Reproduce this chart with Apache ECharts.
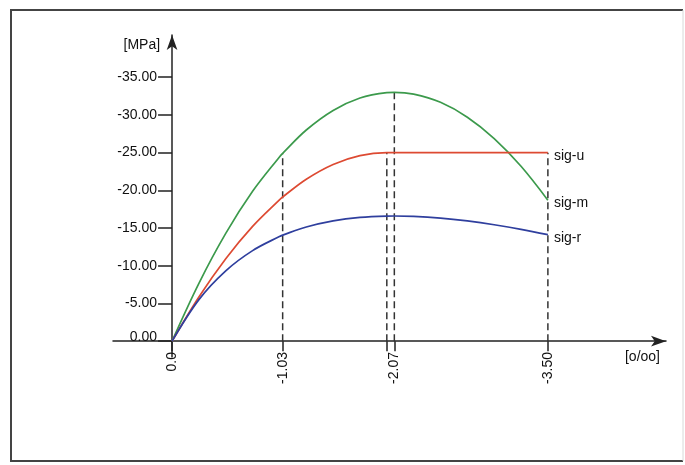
<!DOCTYPE html>
<html>
<head>
<meta charset="utf-8">
<script src="https://cdn.jsdelivr.net/npm/echarts@6/dist/echarts.min.js"></script>
<style>
  html, body { margin: 0; padding: 0; background: #fff; }
  #chart { width: 685px; height: 465px; }
</style>
</head>
<body>
<div id="chart"></div>
<script>
// Concrete stress-strain relations: strain [‰] vs. stress [MPa] (compression negative)
const strain = [0, -0.25, -0.5, -0.75, -1.0, -1.03, -1.25, -1.5, -1.75, -2.0, -2.07, -2.25, -2.5, -2.75, -3.0, -3.25, -3.5];
const sigM = [0, -7.67, -14.29, -19.87, -24.43, -24.91, -28.00, -30.60, -32.25, -32.96, -33.00, -32.76, -31.67, -29.70, -26.87, -23.20, -18.70];
const sigU = [0, -5.86, -10.94, -15.23, -18.75, -19.12, -21.48, -23.44, -24.61, -25.00, -25.00, -25.00, -25.00, -25.00, -25.00, -25.00, -25.00];
const sigR = [0, -5.51, -9.33, -12.01, -13.88, -14.06, -15.14, -15.95, -16.41, -16.59, -16.60, -16.55, -16.32, -15.94, -15.44, -14.83, -14.12];

// Characteristic strains marked with dashed drop lines
const dropX = [-1.03, -2.0, -2.07, -3.5];
const dropTop = [-24.91, -25.0, -33.0, -25.0];

// Axis ticks and labels
const xTickValues = [0, -1.03, -2.0, -2.07, -3.5];
const xLabelValues = [0, -1.03, -2.07, -3.5];
const xLabelTexts = ['0.0', '-1.03', '-2.07', '-3.50'];
const yTickValues = [0, -5, -10, -15, -20, -25, -30, -35];
const yLabelTexts = ['0.00', '-5.00', '-10.00', '-15.00', '-20.00', '-25.00', '-30.00', '-35.00'];

const seriesNames = ['sig-m', 'sig-u', 'sig-r'];
const seriesColors = ['#3c9a4c', '#dd4a32', '#2f3f9e'];
const seriesValues = [sigM, sigU, sigR];
const endOffsets = [[12, 3], [12, 4], [12, 3]];

const FONT = '"Liberation Sans", Arial, sans-serif';
const AXIS_COLOR = '#222';

const chart = echarts.init(document.getElementById('chart'), null, { renderer: 'canvas' });

const curveSeries = seriesNames.map((name, i) => ({
  name: name,
  type: 'line',
  data: strain.map((x, j) => [x, seriesValues[i][j]]),
  smooth: 0.35,
  showSymbol: false,
  lineStyle: { color: seriesColors[i], width: 1.7 },
  z: 5,
  endLabel: {
    show: true,
    formatter: '{a}',
    color: '#111',
    fontFamily: FONT,
    fontSize: 14,
    align: 'left',
    distance: 6,
    offset: endOffsets[i]
  }
}));

const dropSeries = dropX.map((x, i) => ({
  type: 'line',
  data: [[x, 0], [x, dropTop[i]]],
  showSymbol: false,
  silent: true,
  lineStyle: { color: '#333', width: 1.5, type: [7, 4] },
  z: 3
}));

const option = {
  backgroundColor: '#fff',
  animation: false,
  grid: { left: 113, top: 35, width: 553, height: 322, containLabel: false },
  xAxis: {
    type: 'value',
    min: -4.6,
    max: 0.55,
    inverse: true,
    name: '[o/oo]',
    nameLocation: 'start',
    nameGap: -6,
    nameTextStyle: {
      color: '#111', fontFamily: FONT, fontSize: 14,
      align: 'right', verticalAlign: 'top', padding: [9, 0, 0, 0]
    },
    splitLine: { show: false },
    axisLine: {
      onZero: true,
      symbol: ['none', 'arrow'],
      symbolSize: [8, 15],
      lineStyle: { color: AXIS_COLOR, width: 1.5 }
    },
    axisTick: {
      show: true, customValues: xTickValues, length: 10,
      lineStyle: { color: AXIS_COLOR, width: 1.5 }
    },
    axisLabel: {
      show: true,
      customValues: xLabelValues,
      rotate: 90,
      margin: -5,
      color: '#111',
      fontFamily: FONT,
      fontSize: 14,
      formatter: v => {
        const k = xLabelValues.findIndex(t => Math.abs(t - v) < 1e-6);
        return k >= 0 ? xLabelTexts[k] : '';
      }
    }
  },
  yAxis: {
    type: 'value',
    min: -40.6,
    max: 2.1,
    inverse: true,
    name: '[MPa]',
    nameLocation: 'start',
    nameGap: 0,
    nameTextStyle: {
      color: '#111', fontFamily: FONT, fontSize: 14,
      align: 'right', verticalAlign: 'top', padding: [3, 12, 0, 0]
    },
    splitLine: { show: false },
    axisLine: {
      onZero: true,
      symbol: ['none', 'arrow'],
      symbolSize: [8, 15],
      lineStyle: { color: AXIS_COLOR, width: 1.5 }
    },
    axisTick: {
      show: true, customValues: yTickValues, length: 14,
      lineStyle: { color: AXIS_COLOR, width: 1.5 }
    },
    axisLabel: {
      show: true,
      customValues: yTickValues,
      margin: -44,
      color: '#111',
      fontFamily: FONT,
      fontSize: 14,
      // the zero label sits just above the horizontal axis line
      rich: {
        zero: { fontFamily: FONT, fontSize: 14, color: '#111', padding: [0, 0, 9, 0] }
      },
      formatter: v => {
        const k = yTickValues.findIndex(t => Math.abs(t - v) < 1e-6);
        if (k < 0) return '';
        return k === 0 ? '{zero|' + yLabelTexts[k] + '}' : yLabelTexts[k];
      }
    }
  },
  graphic: [
    {
      type: 'polyline',
      shape: { points: [[683, 10], [11, 10], [11, 461], [683, 461]] },
      style: { stroke: '#444', lineWidth: 2, fill: null },
      silent: true
    },
    {
      type: 'line',
      shape: { x1: 683, y1: 10, x2: 683, y2: 461 },
      style: { stroke: '#d8d8d8', lineWidth: 1 },
      silent: true
    }
  ],
  series: dropSeries.concat(curveSeries)
};

chart.setOption(option);
</script>
</body>
</html>
